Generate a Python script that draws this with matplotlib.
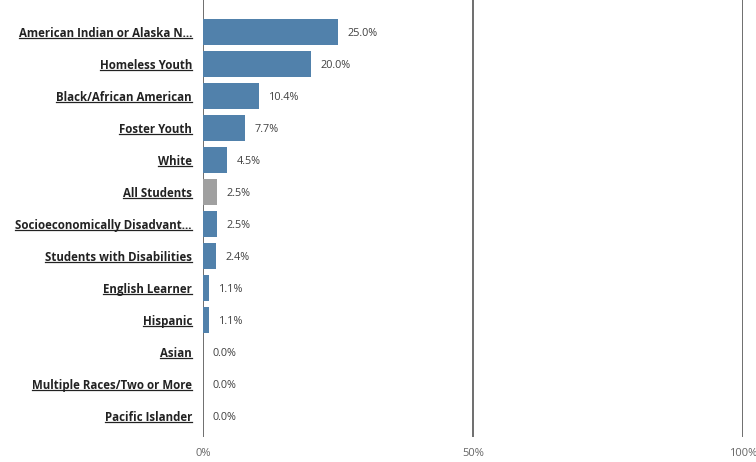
import matplotlib.pyplot as plt
from matplotlib.lines import Line2D

groups = ['American Indian or Alaska N...', 'Homeless Youth', 'Black/African American',
          'Foster Youth', 'White', 'All Students', 'Socioeconomically Disadvant...',
          'Students with Disabilities', 'English Learner', 'Hispanic', 'Asian',
          'Multiple Races/Two or More', 'Pacific Islander']
rates = [25.0, 20.0, 10.4, 7.7, 4.5, 2.5, 2.5, 2.4, 1.1, 1.1, 0.0, 0.0, 0.0]
ticks = [0, 50, 100]
tick_labels = ['0%', '50%', '100%']

plt.rcParams['font.family'] = ['Open Sans', 'DejaVu Sans']

fig = plt.figure(figsize=(7.56, 4.62), dpi=100)
ax = fig.add_axes([203/756, 25/462, 540/756, 437/462])

colors = ['#a0a0a0' if g == 'All Students' else '#5181ab' for g in groups]
ypos = list(range(len(groups)))
ax.barh(ypos, rates, height=0.8, color=colors, zorder=3)

for y, v in zip(ypos, rates):
    ax.text(v + 1.8, y + 0.06, f'{v:.1f}%', va='center', ha='left', fontsize=7.8, color='#404040')

ax.set_xlim(0, 100)
ax.set_ylim(12.66, -1.0)
for t in ticks:
    ax.axvline(t, color='#555555', lw=1.2, zorder=1)

ax.set_xticks(ticks)
ax.set_xticklabels(tick_labels, fontsize=8, color='#666666')
ax.set_yticks(ypos)
ax.set_yticklabels(groups, fontsize=8.3, fontweight='bold', color='#222222')
ax.tick_params(axis='both', length=0)
ax.tick_params(axis='y', pad=8)
ax.tick_params(axis='x', pad=8)
for s in ax.spines.values():
    s.set_visible(False)

# underline the category labels
fig.canvas.draw()
renderer = fig.canvas.get_renderer()
inv = fig.transFigure.inverted()
for lab in ax.get_yticklabels():
    bb = lab.get_window_extent(renderer)
    (x0, y0), (x1, _) = inv.transform([(bb.x0, bb.y0 + 1.5), (bb.x1, bb.y0 + 1.5)])
    fig.add_artist(Line2D([x0, x1], [y0, y0], transform=fig.transFigure,
                          color='#222222', lw=0.9))

fig.savefig('out.png', dpi=100)
